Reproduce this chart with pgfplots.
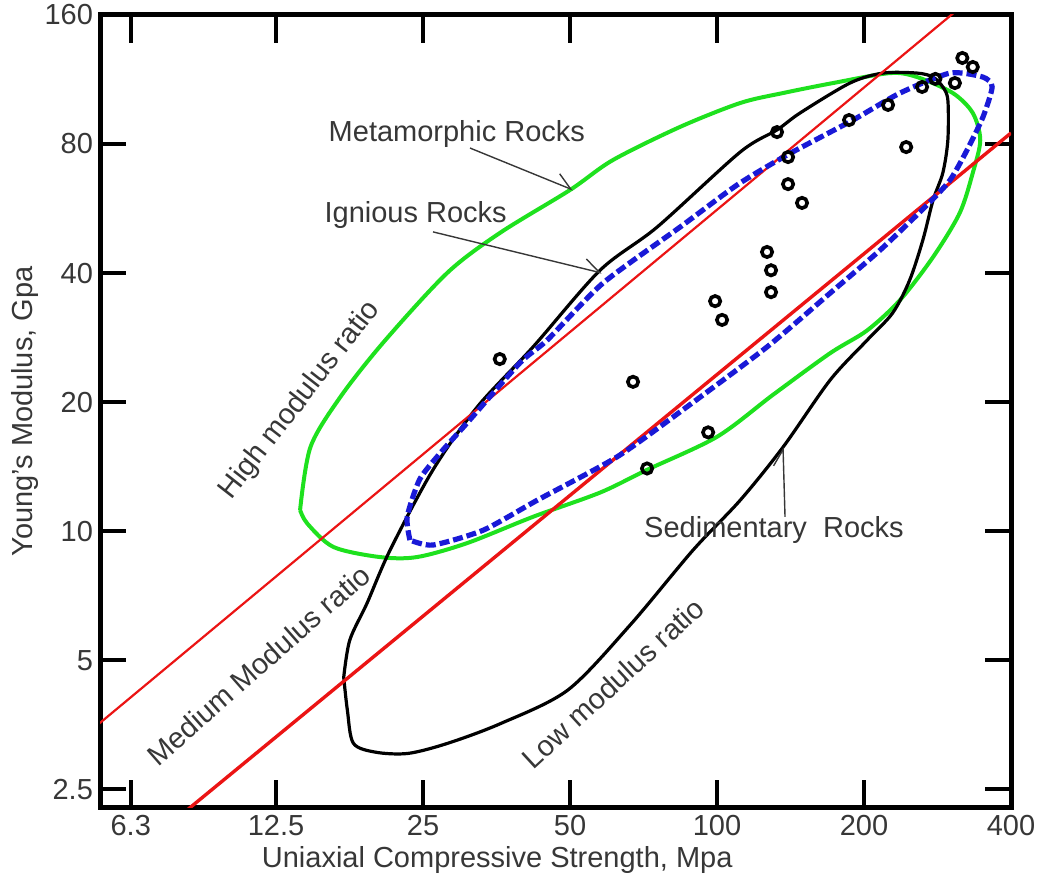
\documentclass[border=0pt]{standalone}
\usepackage{fontspec}
\setmainfont{Liberation Sans}
\usepackage{pgfplots}
\pgfplotsset{compat=1.18}
\usetikzlibrary{arrows.meta}

\definecolor{metagreen}{RGB}{30,225,30}
\definecolor{ratiored}{RGB}{235,20,20}
\definecolor{ignblue}{RGB}{25,25,215}
\definecolor{labelgrey}{RGB}{55,55,55}

\newcommand{\chartfont}{\fontsize{14.5}{17}\selectfont}

\begin{document}
\begin{tikzpicture}
\begin{axis}[
  scale only axis,
  width=455.5pt, height=396.5pt,
  xmode=log, ymode=log,
  xmin=5.45, xmax=400,
  ymin=2.26, ymax=160,
  xtick={6.3,12.5,25,50,100,200,400},
  xticklabels={6.3,12.5,25,50,100,200,400},
  ytick={2.5,5,10,20,40,80,160},
  yticklabels={2.5,5,10,20,40,80,160},
  xtick pos=both, ytick pos=both,
  tick align=inside,
  major tick length=13pt,
  xtick style={line width=2pt, black},
  ytick style={line width=1.8pt, black},
  axis line style={line width=2.5pt},
  every tick label/.append style={font=\chartfont, text=labelgrey},
  xlabel={Uniaxial Compressive Strength, Mpa},
  ylabel={Young's Modulus, Gpa},
  label style={font=\chartfont, text=labelgrey},
  xlabel style={at={(axis description cs:0.436,-0.0656)}, anchor=center},
  ylabel style={at={(axis description cs:-0.0823,0.5)}, anchor=center},
]

% Metamorphic rocks envelope
\addplot[metagreen, line width=2pt, smooth, tension=0.5] coordinates {
  (14.0,11.2) (14.7,15.7) (16.9,20.5) (20.7,27.5) (28.0,40.0) (35.9,49.6)
  (50.0,62.5) (61.2,73.4) (84.0,87.7) (111.5,99.7) (136.5,105.2) (172.8,111.0)
  (226,117.1) (257,114.6) (304,105.2) (334,94.5) (346,81.7) (334,68.5)
  (314,55.2) (277,43.6) (237,34.6) (203,29.4) (170.4,26.0) (130.2,20.8)
  (100,16.6) (71.9,13.9) (57.6,12.3) (42.0,10.8) (30.8,9.38) (24.3,8.70)
  (20.4,8.70) (16.4,9.18) (14.5,10.4) (14.0,11.2)
};

% Sedimentary rocks envelope
\addplot[black, line width=1.6pt, smooth, tension=0.5] coordinates {
  (17.2,4.56) (17.7,5.57) (19.2,6.79) (21.4,9.03) (26.2,13.9) (32.3,19.5)
  (42.0,26.9) (57.6,40.6) (75.4,51.2) (111.5,76.6) (132.7,86.3) (147.9,94.5)
  (187.2,111.0) (218.7,117.1) (257,117.1) (277,114.6) (290,108.7) (297,101.3)
  (297,81.7) (290,68.5) (277,59.2) (264,47.8) (248,38.5) (229,32.3)
  (203,27.9) (170.4,22.5) (136.5,15.7) (111.5,11.8) (89.3,9.03) (66.4,6.04)
  (49.5,4.26) (36.1,3.56) (28.1,3.20) (23.3,3.03) (20.0,3.05) (18.0,3.20)
  (17.5,3.82) (17.2,4.56)
};

% Modulus ratio boundaries
\addplot[ratiored, line width=1.1pt] coordinates {(5,3.29) (400,209)};
\addplot[ratiored, line width=1.7pt] coordinates {(8,2.18) (400,84.9)};

% Igneous rocks envelope
\addplot[ignblue, line width=2.6pt, dash pattern=on 5pt off 2pt, smooth, tension=0.4] coordinates {
  (23.5,9.53) (23.2,10.8) (24.6,13.2) (27.1,15.2) (30.8,17.9) (39.5,24.7)
  (44.9,27.9) (58.4,37.9) (84.0,51.2) (109.9,64.2) (139.1,75.4) (189.9,91.0)
  (237,105.2) (300,117.1) (350.5,114.6) (366,108.7) (350.5,92.5) (325,77.4)
  (300,65.9) (269,57.6) (216,45.3) (170.4,35.9) (126.6,26.9) (85.2,19.2)
  (62.4,14.9) (42.8,11.8) (33.2,10.05) (26.2,9.28) (23.5,9.53)
};

% Measured samples
\addplot[only marks, mark=o, mark size=2.6pt, mark options={line width=1.8pt, black}] coordinates {
  (35.9,25.2) (67.3,22.3) (71.9,14.0) (95.9,17.0) (99.1,34.4) (102.4,31.1)
  (126.6,44.8) (129.0,40.6) (129.0,36.1) (132.7,85.3) (139.8,74.6) (139.8,64.5)
  (149.3,58.3) (186.4,91.0) (224,98.7) (244,78.7) (263,108.7) (280,113.5)
  (307,111.0) (318,127) (334,121)
};

% Inward x tick marks on the bottom and top frame lines
\pgfplotsinvokeforeach{6.3,12.5,25,50,100,200}{
  \draw[black, line width=2pt] (axis cs:#1,2.26) -- (axis cs:#1,2.62);
  \draw[black, line width=2pt] (axis cs:#1,160) -- (axis cs:#1,138);
}

% Annotations
\begin{scope}[font=\chartfont, text=labelgrey]
  \node[anchor=west] at (axis cs:15.5,84.4) {Metamorphic Rocks};
  \node[anchor=west] at (axis cs:15.2,54.6) {Ignious Rocks};
  \node at (axis cs:130.8,10.05) {Sedimentary\ \ Rocks};
  \node[rotate=52] at (axis cs:14.0,20.2) {High modulus ratio};
  \node[rotate=41.3] at (axis cs:11.5,4.87) {Medium Modulus ratio};
  \node[rotate=42.6] at (axis cs:61.2,4.42) {Low modulus ratio};
\end{scope}
\begin{scope}[labelgrey, line width=0.7pt, -{Straight Barb[left,length=8pt,width=10pt]}]
  \draw (axis cs:31.2,78.3) -- (axis cs:50.7,62.5);
  \draw (axis cs:26.2,49.9) -- (axis cs:58.1,40.0);
  \draw (axis cs:137.8,10.8) -- (axis cs:136.5,15.7);
\end{scope}
\end{axis}
\pgfresetboundingbox
\path[use as bounding box] (-50pt,-35pt) rectangle (469.5pt,404pt);
\end{tikzpicture}
\end{document}
